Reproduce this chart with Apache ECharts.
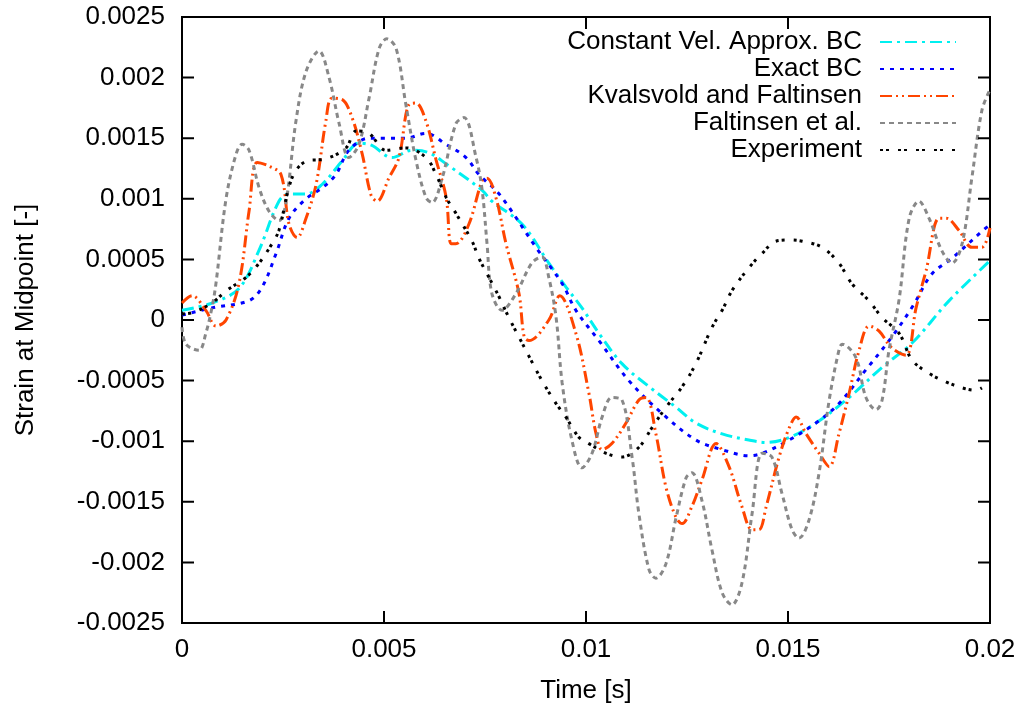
<!DOCTYPE html>
<html>
<head>
<meta charset="utf-8">
<script src="https://cdn.jsdelivr.net/npm/echarts@6/dist/echarts.min.js"></script>
<style>
html,body{margin:0;padding:0;background:#fff;}
#chart{width:1025px;height:709px;}
</style>
</head>
<body>
<div id="chart"></div>
<script>
// ---- data (time [s], strain [-]) ----
var seriesNames = ["Constant Vel. Approx. BC", "Exact BC", "Kvalsvold and Faltinsen", "Faltinsen et al.", "Experiment"];
var xTicks = [0, 0.005, 0.01, 0.015, 0.02];
var xTickLabels = ["0", "0.005", "0.01", "0.015", "0.02"];
var yTicks = [-0.0025, -0.002, -0.0015, -0.001, -0.0005, 0, 0.0005, 0.001, 0.0015, 0.002, 0.0025];
var yTickLabels = ["-0.0025", "-0.002", "-0.0015", "-0.001", "-0.0005", "0", "0.0005", "0.001", "0.0015", "0.002", "0.0025"];

var constVel = [[0,0.00008],[0.00074,0.00014],[0.00141,0.00026],[0.0019,0.00057],[0.0024,0.00098],[0.00265,0.00104],[0.00307,0.00104],[0.00347,0.00112],[0.00396,0.00131],[0.00438,0.00146],[0.0047,0.00144],[0.0052,0.00134],[0.00569,0.0014],[0.00611,0.00138],[0.00653,0.00129],[0.00743,0.00107],[0.00767,0.00098],[0.00842,0.00079],[0.00908,0.00047],[0.00951,0.00027],[0.0099,0.0001],[0.01032,-0.00011],[0.01089,-0.00036],[0.01156,-0.00055],[0.01223,-0.00072],[0.01272,-0.00085],[0.01337,-0.00094],[0.01403,-0.00099],[0.01446,-0.00101],[0.01503,-0.00097],[0.01569,-0.00085],[0.01651,-0.00064],[0.01733,-0.00039],[0.01807,-0.00019],[0.01899,0.00016],[0.02,0.00049]];

var exactBC = [[0,0.00004],[0.00074,0.0001],[0.00166,0.00016],[0.00198,0.00027],[0.00233,0.00055],[0.00265,0.00084],[0.00307,0.001],[0.00347,0.00109],[0.00381,0.0012],[0.00413,0.0014],[0.00463,0.0015],[0.00505,0.0015],[0.00554,0.0015],[0.00604,0.00154],[0.00653,0.00145],[0.00703,0.00134],[0.00735,0.0012],[0.00785,0.00104],[0.00876,0.0006],[0.00941,0.0003],[0.00975,0.00008],[0.01032,-0.00017],[0.01106,-0.0005],[0.01188,-0.00077],[0.01272,-0.00099],[0.01337,-0.00107],[0.01403,-0.00112],[0.01436,-0.0011],[0.01503,-0.00099],[0.01569,-0.00085],[0.01626,-0.00069],[0.01693,-0.00041],[0.01757,-0.00014],[0.0181,0.00012],[0.01856,0.00038],[0.01906,0.00051],[0.0199,0.00076],[0.02,0.00078]];

var kvalsvold = [[0,0.00014],[0.00025,0.0002],[0.00059,0.00008],[0.00084,-0.00005],[0.00109,0],[0.00141,0.0003],[0.00166,0.0009],[0.00186,0.0013],[0.00215,0.00127],[0.00245,0.0012],[0.00265,0.00079],[0.00285,0.00068],[0.00307,0.00084],[0.00332,0.00112],[0.00356,0.00164],[0.00371,0.00183],[0.00396,0.00182],[0.00421,0.00167],[0.00446,0.00137],[0.00468,0.00103],[0.00483,0.00098],[0.00512,0.00117],[0.00537,0.00134],[0.00562,0.00178],[0.00579,0.00179],[0.00604,0.00164],[0.00629,0.00132],[0.00654,0.00101],[0.00666,0.00063],[0.00678,0.00063],[0.0071,0.00079],[0.00743,0.00115],[0.00755,0.00117],[0.00777,0.00101],[0.00802,0.00063],[0.00834,0.00022],[0.00847,-0.00014],[0.00859,-0.00017],[0.00908,0],[0.00935,0.0002],[0.00975,-0.00011],[0.01007,-0.0006],[0.01025,-0.00094],[0.0104,-0.00107],[0.01064,-0.00102],[0.01099,-0.00085],[0.01131,-0.00066],[0.01149,-0.00064],[0.01173,-0.00094],[0.01198,-0.00138],[0.01223,-0.00163],[0.01238,-0.00168],[0.01262,-0.00154],[0.01287,-0.00132],[0.01322,-0.00102],[0.01354,-0.00121],[0.01386,-0.00154],[0.01411,-0.00173],[0.01428,-0.00173],[0.01446,-0.00154],[0.01478,-0.00113],[0.01503,-0.00089],[0.0152,-0.0008],[0.01545,-0.00094],[0.01577,-0.0011],[0.01602,-0.00121],[0.01626,-0.00094],[0.01651,-0.00061],[0.01676,-0.00025],[0.01701,-0.00005],[0.01725,-0.00009],[0.01757,-0.00023],[0.01792,-0.00029],[0.01817,0.0001],[0.01842,0.00041],[0.01874,0.00084],[0.01891,0.00084],[0.01923,0.00074],[0.01955,0.0006],[0.0198,0.0006],[0.02,0.00076]];

var faltinsen = [[0,-0.00006],[0.0001,-0.0002],[0.00042,-0.00025],[0.00059,-0.00011],[0.00074,0.0001],[0.00084,0.0003],[0.00109,0.001],[0.00134,0.00137],[0.00149,0.00145],[0.00166,0.0014],[0.00191,0.00109],[0.00215,0.0009],[0.0024,0.00082],[0.00257,0.00096],[0.00282,0.00164],[0.00307,0.00205],[0.00339,0.00222],[0.00364,0.002],[0.00389,0.00162],[0.00413,0.00134],[0.00438,0.00145],[0.00463,0.00183],[0.00488,0.00224],[0.00507,0.00232],[0.0053,0.00224],[0.00554,0.00178],[0.00579,0.00132],[0.00604,0.00101],[0.00619,0.00097],[0.00644,0.00117],[0.00678,0.00162],[0.00698,0.00167],[0.00728,0.00134],[0.00743,0.00107],[0.00755,0.00063],[0.00767,0.00022],[0.00792,0.00008],[0.00827,0.00022],[0.00866,0.00047],[0.00891,0.00052],[0.00908,0.00035],[0.00926,0.00002],[0.00941,-0.00052],[0.00965,-0.00099],[0.0099,-0.00122],[0.01015,-0.0011],[0.0104,-0.0008],[0.01064,-0.00064],[0.01089,-0.00066],[0.01114,-0.00113],[0.01131,-0.0016],[0.01156,-0.00206],[0.01173,-0.00213],[0.01198,-0.00201],[0.01223,-0.00163],[0.01248,-0.0013],[0.01262,-0.00126],[0.01287,-0.00149],[0.01312,-0.0019],[0.01337,-0.00225],[0.01361,-0.00235],[0.01386,-0.00217],[0.01411,-0.0016],[0.01436,-0.0011],[0.0146,-0.00113],[0.01485,-0.00143],[0.0151,-0.00173],[0.01527,-0.0018],[0.01552,-0.00165],[0.01577,-0.00126],[0.01602,-0.00066],[0.01626,-0.00025],[0.01634,-0.0002],[0.01668,-0.00031],[0.01693,-0.00064],[0.01718,-0.00074],[0.01733,-0.00066],[0.0175,-0.00025],[0.01775,0.00017],[0.018,0.00084],[0.01824,0.00098],[0.01849,0.00084],[0.01881,0.00057],[0.01906,0.00047],[0.01931,0.00063],[0.01955,0.00117],[0.0198,0.00173],[0.02,0.0019]];

var experiment = [[0,0.00005],[0.00025,0.00006],[0.00074,0.00014],[0.00109,0.00024],[0.00158,0.00035],[0.00191,0.00047],[0.00223,0.00063],[0.0024,0.00074],[0.00272,0.00117],[0.00307,0.00131],[0.00356,0.00133],[0.00406,0.00142],[0.00431,0.00156],[0.00463,0.00154],[0.00505,0.0014],[0.00554,0.00142],[0.00604,0.00134],[0.00629,0.0012],[0.00654,0.00101],[0.00678,0.00088],[0.00718,0.00065],[0.00735,0.00051],[0.0076,0.00035],[0.00785,0.00019],[0.00809,0.00002],[0.00834,-0.00014],[0.00859,-0.0003],[0.00891,-0.0005],[0.00926,-0.00069],[0.0095,-0.0008],[0.00983,-0.00097],[0.01007,-0.00102],[0.0105,-0.0011],[0.01089,-0.00113],[0.01131,-0.00105],[0.01163,-0.00089],[0.01198,-0.00072],[0.01238,-0.00055],[0.01272,-0.00036],[0.01312,-0.00006],[0.01337,0.00008],[0.01361,0.00024],[0.01403,0.00043],[0.01436,0.00055],[0.0147,0.00065],[0.01503,0.00066],[0.01535,0.00065],[0.01584,0.0006],[0.01626,0.00047],[0.01658,0.0003],[0.017,0.00016],[0.01733,0.00002],[0.01775,-0.00011],[0.01807,-0.00033],[0.01849,-0.00044],[0.01891,-0.00051],[0.01931,-0.00056],[0.01965,-0.00058],[0.0198,-0.00056]];

// ---- chart ----
var FONT = '"Liberation Sans", Arial, Helvetica, sans-serif';
var TICK_LEN = 12;
var GRID = {left: 182, right: 35, top: 17, bottom: 86};
var W = 1025, H = 709;

function labelFor(ticks, labels) {
  return function (v) {
    for (var i = 0; i < ticks.length; i++) {
      if (Math.abs(ticks[i] - v) < 1e-9) return labels[i];
    }
    return '';
  };
}

function mkSeries(name, data, color, dash) {
  return {
    name: name, type: 'line', data: data, symbol: 'none', smooth: 0.35,
    lineStyle: {color: color, width: 3, type: dash, cap: 'butt'},
    itemStyle: {color: color},
    animation: false
  };
}

var xMin = xTicks[0], xMax = xTicks[xTicks.length - 1];
var yMin = yTicks[0], yMax = yTicks[yTicks.length - 1];
// tick length expressed in data units of each axis
var dX = TICK_LEN / (W - GRID.left - GRID.right) * (xMax - xMin);
var dY = TICK_LEN / (H - GRID.top - GRID.bottom) * (yMax - yMin);

// inward tick marks on all four sides, as short broken line segments on the chart's scales
var tickData = [];
yTicks.forEach(function (v) {
  tickData.push([xMin, v], [xMin + dX, v], null);
  tickData.push([xMax - dX, v], [xMax, v], null);
});
xTicks.forEach(function (v) {
  tickData.push([v, yMin], [v, yMin + dY], null);
  tickData.push([v, yMax - dY], [v, yMax], null);
});

var chart = echarts.init(document.getElementById('chart'), null, {renderer: 'canvas', width: W, height: H});

var option = {
  backgroundColor: '#fff',
  animation: false,
  grid: {left: GRID.left, right: GRID.right, top: GRID.top, bottom: GRID.bottom,
         show: true, borderColor: '#000', borderWidth: 2, backgroundColor: 'rgba(0,0,0,0)'},
  legend: {
    orient: 'vertical', right: 68, top: 29, padding: 0,
    align: 'right', itemWidth: 76, itemHeight: 14, itemGap: 1,
    itemStyle: {opacity: 0},
    textStyle: {fontFamily: FONT, fontSize: 26, color: '#000', padding: [0, 13, 0, 0]},
    data: seriesNames,
    selectedMode: false
  },
  xAxis: {
    type: 'value', min: xMin, max: xMax, interval: 0.005, position: 'bottom',
    name: 'Time [s]', nameLocation: 'middle', nameGap: 55,
    nameTextStyle: {fontFamily: FONT, fontSize: 26, color: '#000'},
    axisLine: {show: true, onZero: false, lineStyle: {color: '#000', width: 2}},
    axisTick: {show: false},
    splitLine: {show: false},
    axisLabel: {fontFamily: FONT, fontSize: 26, color: '#000', margin: 14, formatter: labelFor(xTicks, xTickLabels)}
  },
  yAxis: {
    type: 'value', min: yMin, max: yMax, interval: 0.0005, position: 'left',
    name: 'Strain at Midpoint [-]', nameLocation: 'middle', nameGap: 143,
    nameTextStyle: {fontFamily: FONT, fontSize: 26, color: '#000'},
    axisLine: {show: true, onZero: false, lineStyle: {color: '#000', width: 2}},
    axisTick: {show: false},
    splitLine: {show: false},
    axisLabel: {fontFamily: FONT, fontSize: 26, color: '#000', margin: 17, formatter: labelFor(yTicks, yTickLabels)}
  },
  series: [
    mkSeries(seriesNames[0], constVel, '#00f0f0', [12, 5, 3, 5]),
    mkSeries(seriesNames[1], exactBC, '#0000ff', [4, 6]),
    mkSeries(seriesNames[2], kvalsvold, '#ff4500', [12, 4, 2, 4, 2, 4]),
    mkSeries(seriesNames[3], faltinsen, '#888888', [5, 4]),
    mkSeries(seriesNames[4], experiment, '#000000', [3, 3, 3, 9]),
    {
      name: '_ticks', type: 'line', data: tickData, symbol: 'none', showSymbol: false,
      connectNulls: false, smooth: false, clip: false, silent: true, z: 10,
      lineStyle: {color: '#000', width: 2, type: 'solid'}, animation: false
    }
  ]
};
chart.setOption(option);
</script>
</body>
</html>
